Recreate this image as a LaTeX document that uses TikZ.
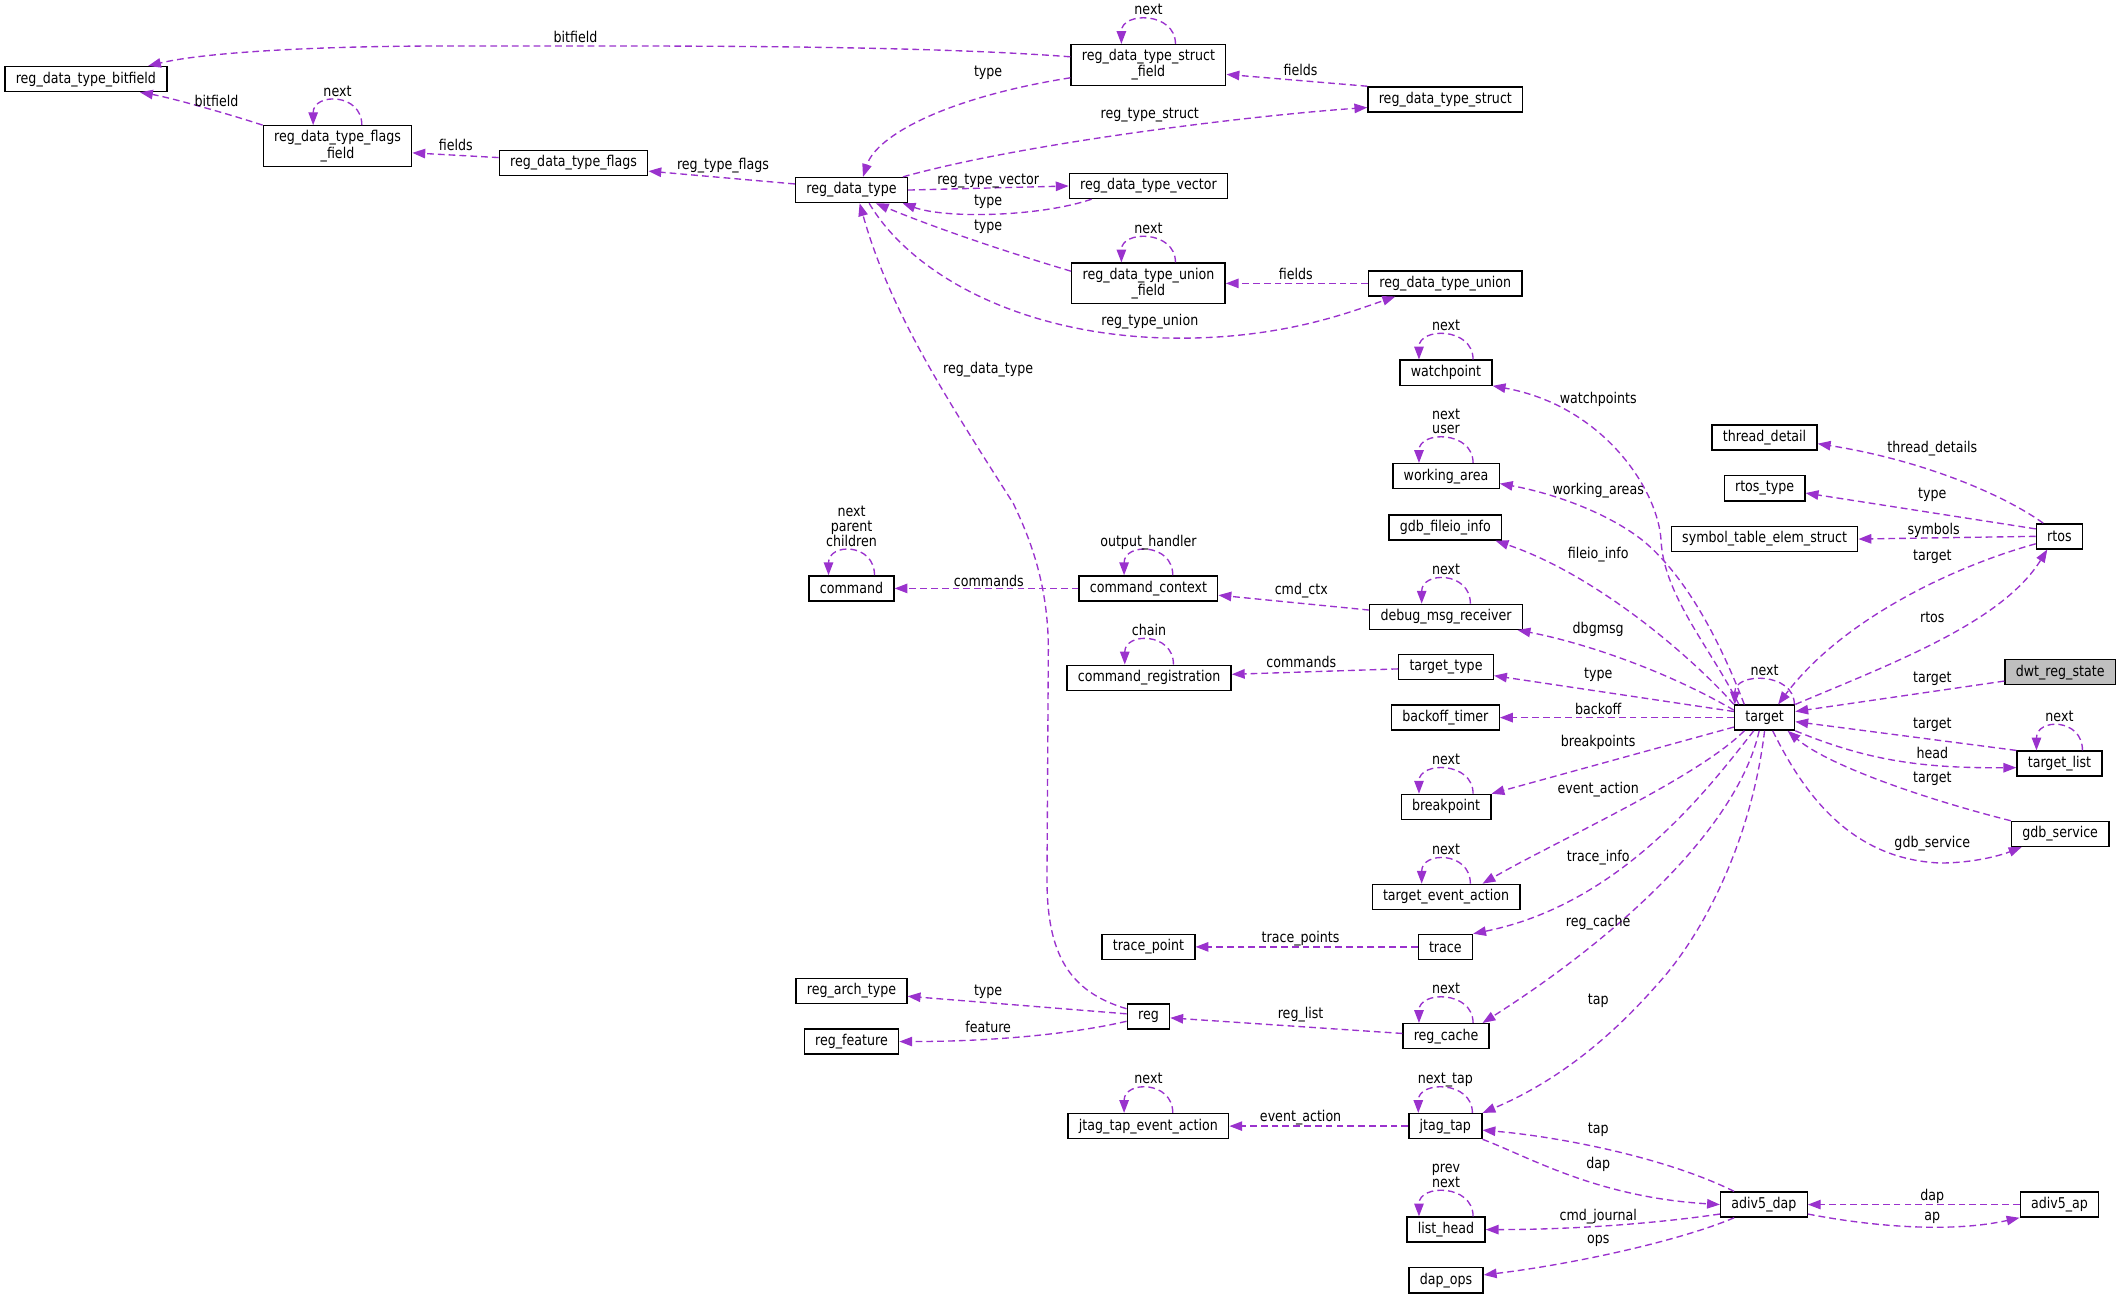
\documentclass[tikz,border=0pt]{standalone}
\usepackage{fontspec}
\setmainfont{DejaVu Sans}[FakeStretch=0.85]
\usetikzlibrary{arrows.meta}

\definecolor{edgepurple}{HTML}{9A32CD}
\definecolor{boxgray}{HTML}{BFBFBF}
\newcommand{\dxfont}{\fontsize{11}{10.8}\selectfont}
\tikzset{
	cls/.style={draw=black, line width=1pt, fill=white, inner xsep=8pt, inner ysep=0pt, minimum height=18.5pt, align=center, font=\dxfont},
	cls2/.style={cls, minimum height=30pt},
	edge/.style={draw=edgepurple, line width=1pt, dash pattern=on 5pt off 3pt, -{Triangle[length=9.5pt,width=7pt]}},
	lbl/.style={inner sep=0pt, font=\dxfont},
	looplbl/.style={lbl, pos=0.5, anchor=south, yshift=3pt, text depth=0pt, align=center}
}
\newcommand{\selfloop}[3][18pt]{\draw [edge] ([xshift=#1]#2.north) .. controls +(0pt,24pt) and +(0pt,24pt) .. ([xshift=-#1]#2.north) node [looplbl] {#3};}

\begin{document}
\begin{tikzpicture}[x=1pt,y=-1pt]
		\useasboundingbox (0,0) rectangle (1568,960);

		\node (bitf) at (63.5,58.5) [cls] {reg\_data\_type\_bitfield};
		\node (flagsf) at (249.5,108) [cls2] {reg\_data\_type\_flags\\\_field};
		\node (flags) at (424,120.5) [cls] {reg\_data\_type\_flags};
		\node (rdt) at (629.5,140.5) [cls] {reg\_data\_type};
		\node (structf) at (849,48) [cls2] {reg\_data\_type\_struct\\\_field};
		\node (struct) at (1068.5,73.5) [cls] {reg\_data\_type\_struct};
		\node (vector) at (849,137.5) [cls] {reg\_data\_type\_vector};
		\node (unionf) at (849,209.5) [cls2] {reg\_data\_type\_union\\\_field};
		\node (union) at (1068.5,209.5) [cls] {reg\_data\_type\_union};
		\node (watchp) at (1069,275.5) [cls] {watchpoint};
		\node (threadd) at (1304.5,323.5) [cls] {thread\_detail};
		\node (workar) at (1069,352) [cls] {working\_area};
		\node (rtostype) at (1304.5,361) [cls] {rtos\_type};
		\node (fileio) at (1068.5,390) [cls] {gdb\_fileio\_info};
		\node (symtab) at (1304.5,398.5) [cls] {symbol\_table\_elem\_struct};
		\node (rtos) at (1522.5,396.5) [cls] {rtos};
		\node (cmd) at (629.5,435) [cls] {command};
		\node (cmdctx) at (849,435) [cls] {command\_context};
		\node (dbgmsg) at (1069,456) [cls] {debug\_msg\_receiver};
		\node (cmdreg) at (849.5,501) [cls] {command\_registration};
		\node (ttype) at (1069,493) [cls] {target\_type};
		\node (dwt) at (1523,497) [cls, fill=boxgray] {dwt\_reg\_state};
		\node (target) at (1304.5,530.5) [cls] {target};
		\node (backoff) at (1068.5,530.5) [cls] {backoff\_timer};
		\node (tlist) at (1522.5,564.5) [cls] {target\_list};
		\node (bkpt) at (1069,596.5) [cls] {breakpoint};
		\node (gdbsvc) at (1523,616.5) [cls] {gdb\_service};
		\node (tevact) at (1069,663) [cls] {target\_event\_action};
		\node (tracept) at (849,700) [cls] {trace\_point};
		\node (trace) at (1068.5,700) [cls] {trace};
		\node (regarch) at (629.5,732.5) [cls] {reg\_arch\_type};
		\node (reg) at (849,751.5) [cls] {reg};
		\node (regfeat) at (629.5,770) [cls] {reg\_feature};
		\node (regcache) at (1069,766) [cls] {reg\_cache};
		\node (jtevact) at (849,832.5) [cls] {jtag\_tap\_event\_action};
		\node (jtag) at (1068.5,832.5) [cls] {jtag\_tap};
		\node (dap) at (1304,890.5) [cls] {adiv5\_dap};
		\node (ap) at (1522.5,890.5) [cls] {adiv5\_ap};
		\node (listh) at (1069,909) [cls] {list\_head};
		\node (dapops) at (1069,946.5) [cls] {dap\_ops};

		\draw [edge] ([yshift=6pt]structf.west) .. controls (700,35) and (560,34) .. (450,34) -- (330,34) .. controls (230,34) and (150,39) .. ([xshift=46pt]bitf.north) node [lbl, at={(425.5,27.5)}] {bitfield};
		\draw [edge] (flagsf.north west) .. controls (165,83) and (125,72) .. ([xshift=40pt]bitf.south) node [lbl, at={(160,75)}] {bitfield};
		\selfloop{flagsf}{next}
		\draw [edge] ([yshift=4pt]flags.west) -- ([yshift=-5pt]flagsf.east) node [lbl, at={(337,107.5)}] {fields};
		\draw [edge] ([yshift=4.5pt]rdt.west) -- ([yshift=-6pt]flags.east) node [lbl, at={(534.5,122.5)}] {reg\_type\_flags};
		\draw [edge] ([yshift=-9.5pt]structf.west) .. controls (700,72) and (648,100) .. ([xshift=8.5pt]rdt.north) node [lbl, at={(730.5,54)}] {type};
		\selfloop[20pt]{structf}{next}
		\draw [edge] (struct.north west) -- ([yshift=-7pt]structf.east) node [lbl, at={(961.5,51.5)}] {fields};
		\draw [edge] ([xshift=38pt]rdt.north) .. controls (760,105) and (930,85) .. ([yshift=-6pt]struct.west) node [lbl, at={(850,85)}] {reg\_type\_struct};
		\draw [edge] (rdt.east) -- (vector.west) node [lbl, at={(730.5,133.5)}] {reg\_type\_vector};
		\draw [edge] ([xshift=-42pt]vector.south) .. controls (770,160) and (700,162) .. ([xshift=-4pt]rdt.south east) node [lbl, at={(730.5,149)}] {type};
		\draw [edge] ([yshift=9pt]unionf.west) .. controls (740,185) and (690,168) .. ([xshift=18pt]rdt.south) node [lbl, at={(730.5,167.5)}] {type};
		\selfloop[20pt]{unionf}{next}
		\draw [edge] (union.west) -- (unionf.east) node [lbl, at={(958,202.5)}] {fields};
		\draw [edge] ([xshift=13pt]rdt.south) .. controls (675,205) and (760,250) .. (872,250) .. controls (950,250) and (1000,230) .. ([xshift=-37pt]union.south) node [lbl, at={(850,238)}] {reg\_type\_union};
		\draw [edge] ([yshift=-4pt]reg.north west) .. controls (790,733) and (774,705) .. (774,650) -- (775,480) .. controls (775,430) and (760,395) .. (749,372) .. controls (698,292) and (658,230) .. ([xshift=6pt]rdt.south) node [lbl, at={(730.5,273)}] {reg\_data\_type};

		\selfloop[17pt]{cmd}{next\\parent\\children}
		\selfloop{cmdctx}{output\_handler}
		\draw [edge] (cmdctx.west) -- (cmd.east) node [lbl, at={(731,429.5)}] {commands};
		\draw [edge] ([yshift=5pt]dbgmsg.west) -- ([yshift=-5pt]cmdctx.east) node [lbl, at={(962,436.5)}] {cmd\_ctx};
		\selfloop{dbgmsg}{next}
		\selfloop{cmdreg}{chain}
		\draw [edge] ([yshift=-1.5pt]ttype.west) -- ([yshift=2.5pt]cmdreg.east) node [lbl, at={(962,489)}] {commands};

		\draw [edge] ([xshift=-12pt]rtos.north) .. controls (1480,365) and (1420,340) .. ([yshift=-4.5pt]threadd.east) node [lbl, at={(1428.5,331.5)}] {thread\_details};
		\draw [edge] ([yshift=5.5pt]rtos.west) -- ([yshift=-3.5pt]rtostype.east) node [lbl, at={(1428.5,365.5)}] {type};
		\draw [edge] (rtos.west) -- (symtab.east) node [lbl, at={(1429.5,392)}] {symbols};
		\draw [edge] ([yshift=-5.5pt]rtos.west) .. controls (1440,420) and (1360,460) .. ([xshift=10pt]target.north) node [lbl, at={(1428.5,411.5)}] {target};
		\draw [edge] (target.north east) .. controls (1400,490) and (1480,460) .. ([xshift=-9pt]rtos.south) node [lbl, at={(1428.5,456.5)}] {rtos};

		\draw [edge] ([xshift=-19pt]target.north) .. controls (1265,480) and (1230,440) .. (1228,400) .. controls (1226,362) and (1185,300) .. (watchp.south east) node [lbl, at={(1181.5,295)}] {watchpoints};
		\selfloop[20pt]{watchp}{next}
		\draw [edge] ([xshift=-15pt]target.north) .. controls (1270,470) and (1245,425) .. (1215,400) .. controls (1190,380) and (1150,365) .. ([yshift=-5.5pt]workar.east) node [lbl, at={(1181.5,363)}] {working\_areas};
		\selfloop[20pt]{workar}{next\\user}
		\draw [edge] (target.north west) .. controls (1250,485) and (1180,425) .. ([xshift=-5pt]fileio.south east) node [lbl, at={(1181.5,410)}] {fileio\_info};
		\draw [edge] ([yshift=5.5pt]target.west) .. controls (1230,495) and (1170,475) .. ([xshift=-4pt]dbgmsg.south east) node [lbl, at={(1181.5,465)}] {dbgmsg};
		\draw [edge] ([yshift=4.5pt]target.west) -- ([yshift=-6.5pt]ttype.east) node [lbl, at={(1181.5,499)}] {type};
		\draw [edge] (target.west) -- (backoff.east) node [lbl, at={(1181.5,524)}] {backoff};
		\draw [edge] ([yshift=-7pt]target.west) -- (bkpt.north east) node [lbl, at={(1181.5,549)}] {breakpoints};
		\selfloop[20pt]{bkpt}{next}
		\draw [edge] ([xshift=-15pt]target.south) .. controls (1255,575) and (1150,622) .. ([xshift=27pt]tevact.north) node [lbl, at={(1181.5,584)}] {event\_action};
		\selfloop{tevact}{next}
		\draw [edge] ([xshift=-8pt]target.south) .. controls (1265,580) and (1200,668) .. (trace.north east) node [lbl, at={(1181.5,634)}] {trace\_info};
		\draw [edge] (trace.west) -- (tracept.east) node [lbl, at={(961.5,694)}] {trace\_points};
		\draw [edge] ([xshift=-4pt]target.south) .. controls (1285,610) and (1200,690) .. ([xshift=27pt]regcache.north) node [lbl, at={(1181.5,682)}] {reg\_cache};
		\selfloop[20pt]{regcache}{next}
		\draw [edge] ([yshift=2pt]regcache.west) -- ([yshift=-1pt]reg.east) node [lbl, at={(961.5,750)}] {reg\_list};
		\draw [edge] ([yshift=2pt]reg.west) -- ([yshift=-4pt]regarch.east) node [lbl, at={(730.5,733)}] {type};
		\draw [edge] ([yshift=-3.5pt]reg.west) .. controls (790,765) and (730,770) .. (regfeat.east) node [lbl, at={(730.5,759)}] {feature};
		\draw [edge] (target.south) .. controls (1295,620) and (1260,690) .. (1225,728) .. controls (1190,768) and (1150,800) .. (jtag.north east) node [lbl, at={(1181.5,740)}] {tap};
		\selfloop[20pt]{jtag}{next\_tap}
		\draw [edge] (jtag.west) -- (jtevact.east) node [lbl, at={(961.5,826.5)}] {event\_action};
		\selfloop{jtevact}{next}

		\draw [edge] ([yshift=-6.5pt]dwt.west) -- ([yshift=4.5pt]target.east) node [lbl, at={(1428.5,501.5)}] {target};
		\selfloop[22pt]{target}{next}
		\draw [edge] (tlist.north west) -- ([yshift=-3pt]target.east) node [lbl, at={(1428.5,536)}] {target};
		\draw [edge] (target.south east) .. controls (1380,562) and (1420,568) .. ([yshift=-3pt]tlist.west) node [lbl, at={(1428.5,557)}] {head};
		\selfloop[17pt]{tlist}{next}
		\draw [edge] (gdbsvc.north west) .. controls (1420,590) and (1350,565) .. ([xshift=17pt]target.south) node [lbl, at={(1428.5,575.5)}] {target};
		\draw [edge] ([xshift=6pt]target.south) .. controls (1335,590) and (1370,635) .. (1434,638) .. controls (1460,638) and (1480,632) .. ([xshift=-28.5pt]gdbsvc.south) node [lbl, at={(1428.5,624)}] {gdb\_service};

		\draw [edge] ([xshift=-22pt]dap.north) .. controls (1230,855) and (1150,840) .. ([yshift=-3pt]jtag.east) node [lbl, at={(1181.5,835.5)}] {tap};
		\draw [edge] (jtag.south east) .. controls (1130,855) and (1180,885) .. (dap.west) node [lbl, at={(1181.5,861)}] {dap};
		\selfloop[20pt]{listh}{prev\\next}
		\draw [edge] ([yshift=-7pt]dap.west) .. controls (1220,905) and (1160,909) .. (listh.east) node [lbl, at={(1181.5,899.5)}] {cmd\_journal};
		\draw [edge] ([xshift=-22pt]dap.south) .. controls (1240,918) and (1160,935) .. ([yshift=4pt]dapops.east) node [lbl, at={(1181.5,917.5)}] {ops};
		\draw [edge] (ap.west) -- (dap.east) node [lbl, at={(1428.5,884.5)}] {dap};
		\draw [edge] ([yshift=-7pt]dap.east) .. controls (1380,906) and (1440,912) .. (ap.south west) node [lbl, at={(1428.5,900)}] {ap};
	\end{tikzpicture}
\end{document}
